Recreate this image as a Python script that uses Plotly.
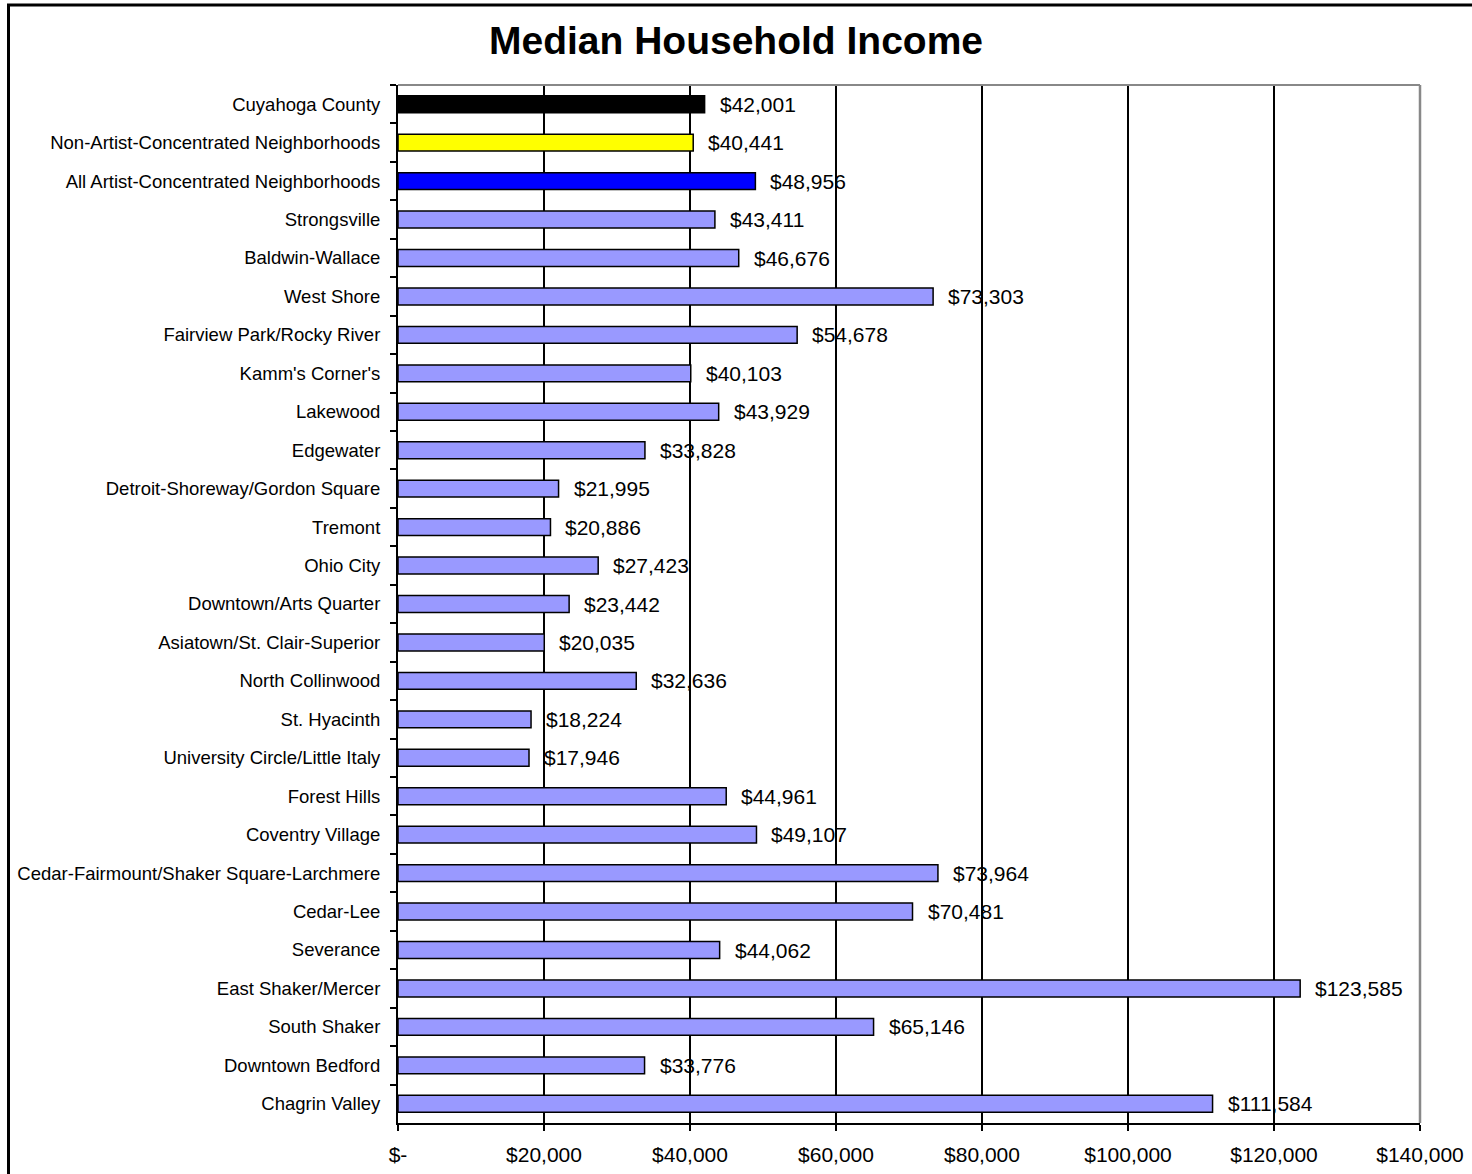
import plotly.graph_objects as go

categories = [
    "Cuyahoga County",
    "Non-Artist-Concentrated Neighborhoods",
    "All Artist-Concentrated Neighborhoods",
    "Strongsville",
    "Baldwin-Wallace",
    "West Shore",
    "Fairview Park/Rocky River",
    "Kamm's Corner's",
    "Lakewood",
    "Edgewater",
    "Detroit-Shoreway/Gordon Square",
    "Tremont",
    "Ohio City",
    "Downtown/Arts Quarter",
    "Asiatown/St. Clair-Superior",
    "North Collinwood",
    "St. Hyacinth",
    "University Circle/Little Italy",
    "Forest Hills",
    "Coventry Village",
    "Cedar-Fairmount/Shaker Square-Larchmere",
    "Cedar-Lee",
    "Severance",
    "East Shaker/Mercer",
    "South Shaker",
    "Downtown Bedford",
    "Chagrin Valley",
]
incomes = [
    42001, 40441, 48956, 43411, 46676, 73303, 54678, 40103, 43929, 33828,
    21995, 20886, 27423, 23442, 20035, 32636, 18224, 17946, 44961, 49107,
    73964, 70481, 44062, 123585, 65146, 33776, 111584,
]
bar_colors = ["#000000", "#FFFF00", "#0000FF"] + ["#9999FF"] * 24
x_tick_vals = [0, 20000, 40000, 60000, 80000, 100000, 120000, 140000]
x_tick_text = ["$-", "$20,000", "$40,000", "$60,000", "$80,000", "$100,000", "$120,000", "$140,000"]

W, H = 1472, 1174
L, R, T, B = 398, 52, 85, 51
pw, ph = W - L - R, H - T - B

fig = go.Figure()
fig.add_trace(go.Bar(
    y=categories, x=incomes, orientation="h",
    marker=dict(color=bar_colors, line=dict(color="#000000", width=1.5)),
    width=0.44, hoverinfo="x+y",
))

for c, v in zip(categories, incomes):
    fig.add_annotation(
        x=v, y=c, xref="x", yref="y", text="${:,}".format(v),
        showarrow=False, xanchor="left", yanchor="middle", xshift=13,
        font=dict(family="Arial, Liberation Sans", size=21, color="#000000"),
    )

font_family = "Arial, Liberation Sans, sans-serif"
fig.update_layout(
    width=W, height=H,
    margin=dict(l=L, r=R, t=T, b=B, autoexpand=False),
    paper_bgcolor="white", plot_bgcolor="white",
    showlegend=False,
    font=dict(family=font_family, color="#000000"),
    title=dict(
        text="<b>Median Household Income</b>",
        x=736 / W, xref="container", xanchor="center",
        y=1 - 40 / H, yref="container", yanchor="middle",
        font=dict(family=font_family, size=39, color="#000000"),
    ),
    bargap=0.56,
)
fig.update_xaxes(
    range=[0, 140000], tickvals=x_tick_vals, ticktext=x_tick_text,
    showgrid=True, gridcolor="#000000", gridwidth=1.5,
    showline=True, linecolor="#000000", linewidth=2,
    ticks="outside", ticklen=6, tickcolor="#000000", tickwidth=1.5,
    tickfont=dict(family=font_family, size=21, color="#000000"),
    ticklabelstandoff=6, zeroline=False, fixedrange=True,
)
fig.update_yaxes(
    categoryorder="array", categoryarray=categories, autorange="reversed",
    showgrid=False, showline=True, linecolor="#000000", linewidth=2,
    ticks="outside", ticklen=6, tickcolor="#000000", tickwidth=1.5,
    tickson="boundaries",
    tickfont=dict(family=font_family, size=18.5, color="#000000"),
    ticklabelstandoff=12, fixedrange=True,
)

# gray top and right plot-area borders
fig.add_shape(type="line", xref="paper", yref="paper", x0=0, x1=1, y0=1, y1=1,
              line=dict(color="#888888", width=2), layer="above")
fig.add_shape(type="line", xref="paper", yref="paper", x0=1, x1=1, y0=0, y1=1,
              line=dict(color="#888888", width=2.5), layer="above")
# outer chart border (left and top visible)
fig.add_shape(type="rect", xref="paper", yref="paper",
              x0=(8.5 - L) / pw, x1=1 + (R + 20) / pw,
              y0=-(B + 20) / ph, y1=1 + (T - 5) / ph,
              line=dict(color="#000000", width=3), layer="above")

fig.write_html(
    "out.html",
    config={"displayModeBar": False},
    post_script="document.body.style.margin='0';document.body.style.overflow='hidden';",
)
